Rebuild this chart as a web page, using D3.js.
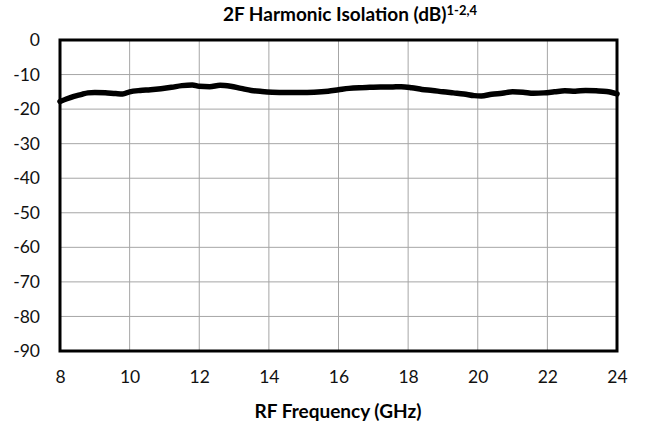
<!DOCTYPE html>
<html><head><meta charset="utf-8">
<script src="https://cdn.jsdelivr.net/npm/d3@7"></script>
<style>body{margin:0;background:#fff}svg{display:block}text{font-family:Lato,"Open Sans",sans-serif}</style>
</head><body>
<svg id="c" width="645" height="431"></svg>
<script>
const freq = [8.0,8.2,8.4,8.6,8.8,9.0,9.3,9.6,9.8,10.0,10.3,10.6,10.9,11.2,11.5,11.8,12.0,12.3,12.6,12.9,13.2,13.5,13.8,14.1,14.5,14.9,15.3,15.7,16.0,16.3,16.6,16.9,17.2,17.5,17.8,18.1,18.4,18.7,19.0,19.3,19.6,19.9,20.1,20.4,20.7,21.0,21.3,21.6,21.9,22.2,22.5,22.8,23.1,23.4,23.7,24.0];
const iso  = [-17.8,-17.0,-16.3,-15.8,-15.3,-15.2,-15.3,-15.5,-15.6,-15.0,-14.6,-14.4,-14.1,-13.7,-13.2,-13.0,-13.4,-13.5,-13.1,-13.4,-14.0,-14.6,-14.9,-15.1,-15.2,-15.2,-15.1,-14.8,-14.4,-14.0,-13.8,-13.7,-13.6,-13.6,-13.5,-13.8,-14.3,-14.6,-15.0,-15.3,-15.6,-16.1,-16.2,-15.7,-15.4,-15.0,-15.1,-15.4,-15.3,-15.0,-14.7,-14.8,-14.6,-14.7,-14.9,-15.6];
const xTicks = [8,10,12,14,16,18,20,22,24];
const yTicks = [0,-10,-20,-30,-40,-50,-60,-70,-80,-90];

const svg = d3.select("#c");
const L=60, R=617, T=40, B=351;
const x = d3.scaleLinear().domain([8,24]).range([L,R]);
const y = d3.scaleLinear().domain([-90,0]).range([B,T]);

svg.append("g").selectAll("line").data(xTicks.slice(1,-1)).join("line")
  .attr("x1",d=>x(d)).attr("x2",d=>x(d)).attr("y1",T).attr("y2",B)
  .attr("stroke","#a6a6a6").attr("stroke-width",1);
svg.append("g").selectAll("line").data(yTicks.slice(1,-1)).join("line")
  .attr("x1",L).attr("x2",R).attr("y1",d=>y(d)).attr("y2",d=>y(d))
  .attr("stroke","#a6a6a6").attr("stroke-width",1);

const xa = svg.append("g").attr("transform",`translate(0,${B})`)
  .call(d3.axisBottom(x).tickValues(xTicks).tickSize(0).tickPadding(20).tickFormat(d3.format("d")));
xa.select(".domain").remove();
xa.selectAll("text").attr("font-size",17.5).attr("fill","#111").style("font-family","Lato, 'Open Sans', sans-serif");
const ya = svg.append("g").attr("transform",`translate(${L},0)`)
  .call(d3.axisLeft(y).tickValues(yTicks).tickSize(0).tickPadding(20).tickFormat(d=>d===0?"0":"-"+Math.abs(d)));
ya.select(".domain").remove();
ya.selectAll("text").attr("font-size",17.5).attr("fill","#111").style("font-family","Lato, 'Open Sans', sans-serif");

const line = d3.line().x((d,i)=>x(freq[i])).y(d=>y(d)).curve(d3.curveMonotoneX);
svg.append("path").datum(iso).attr("d",line).attr("fill","none")
  .attr("stroke","#000").attr("stroke-width",5.5).attr("stroke-linejoin","round").attr("stroke-linecap","round");

svg.append("rect").attr("x",L).attr("y",T).attr("width",R-L).attr("height",B-T)
  .attr("fill","none").attr("stroke","#000").attr("stroke-width",3);

const t = svg.append("text").attr("x",350).attr("y",21).attr("text-anchor","middle")
  .attr("font-size",19).attr("font-weight","bold");
t.append("tspan").text("2F Harmonic Isolation (dB)");
t.append("tspan").attr("font-size",13).attr("dy",-6).text("1-2,4");

svg.append("text").attr("x",338).attr("y",418).attr("text-anchor","middle")
  .attr("font-size",19).attr("font-weight","bold").text("RF Frequency (GHz)");
</script>
</body></html>
